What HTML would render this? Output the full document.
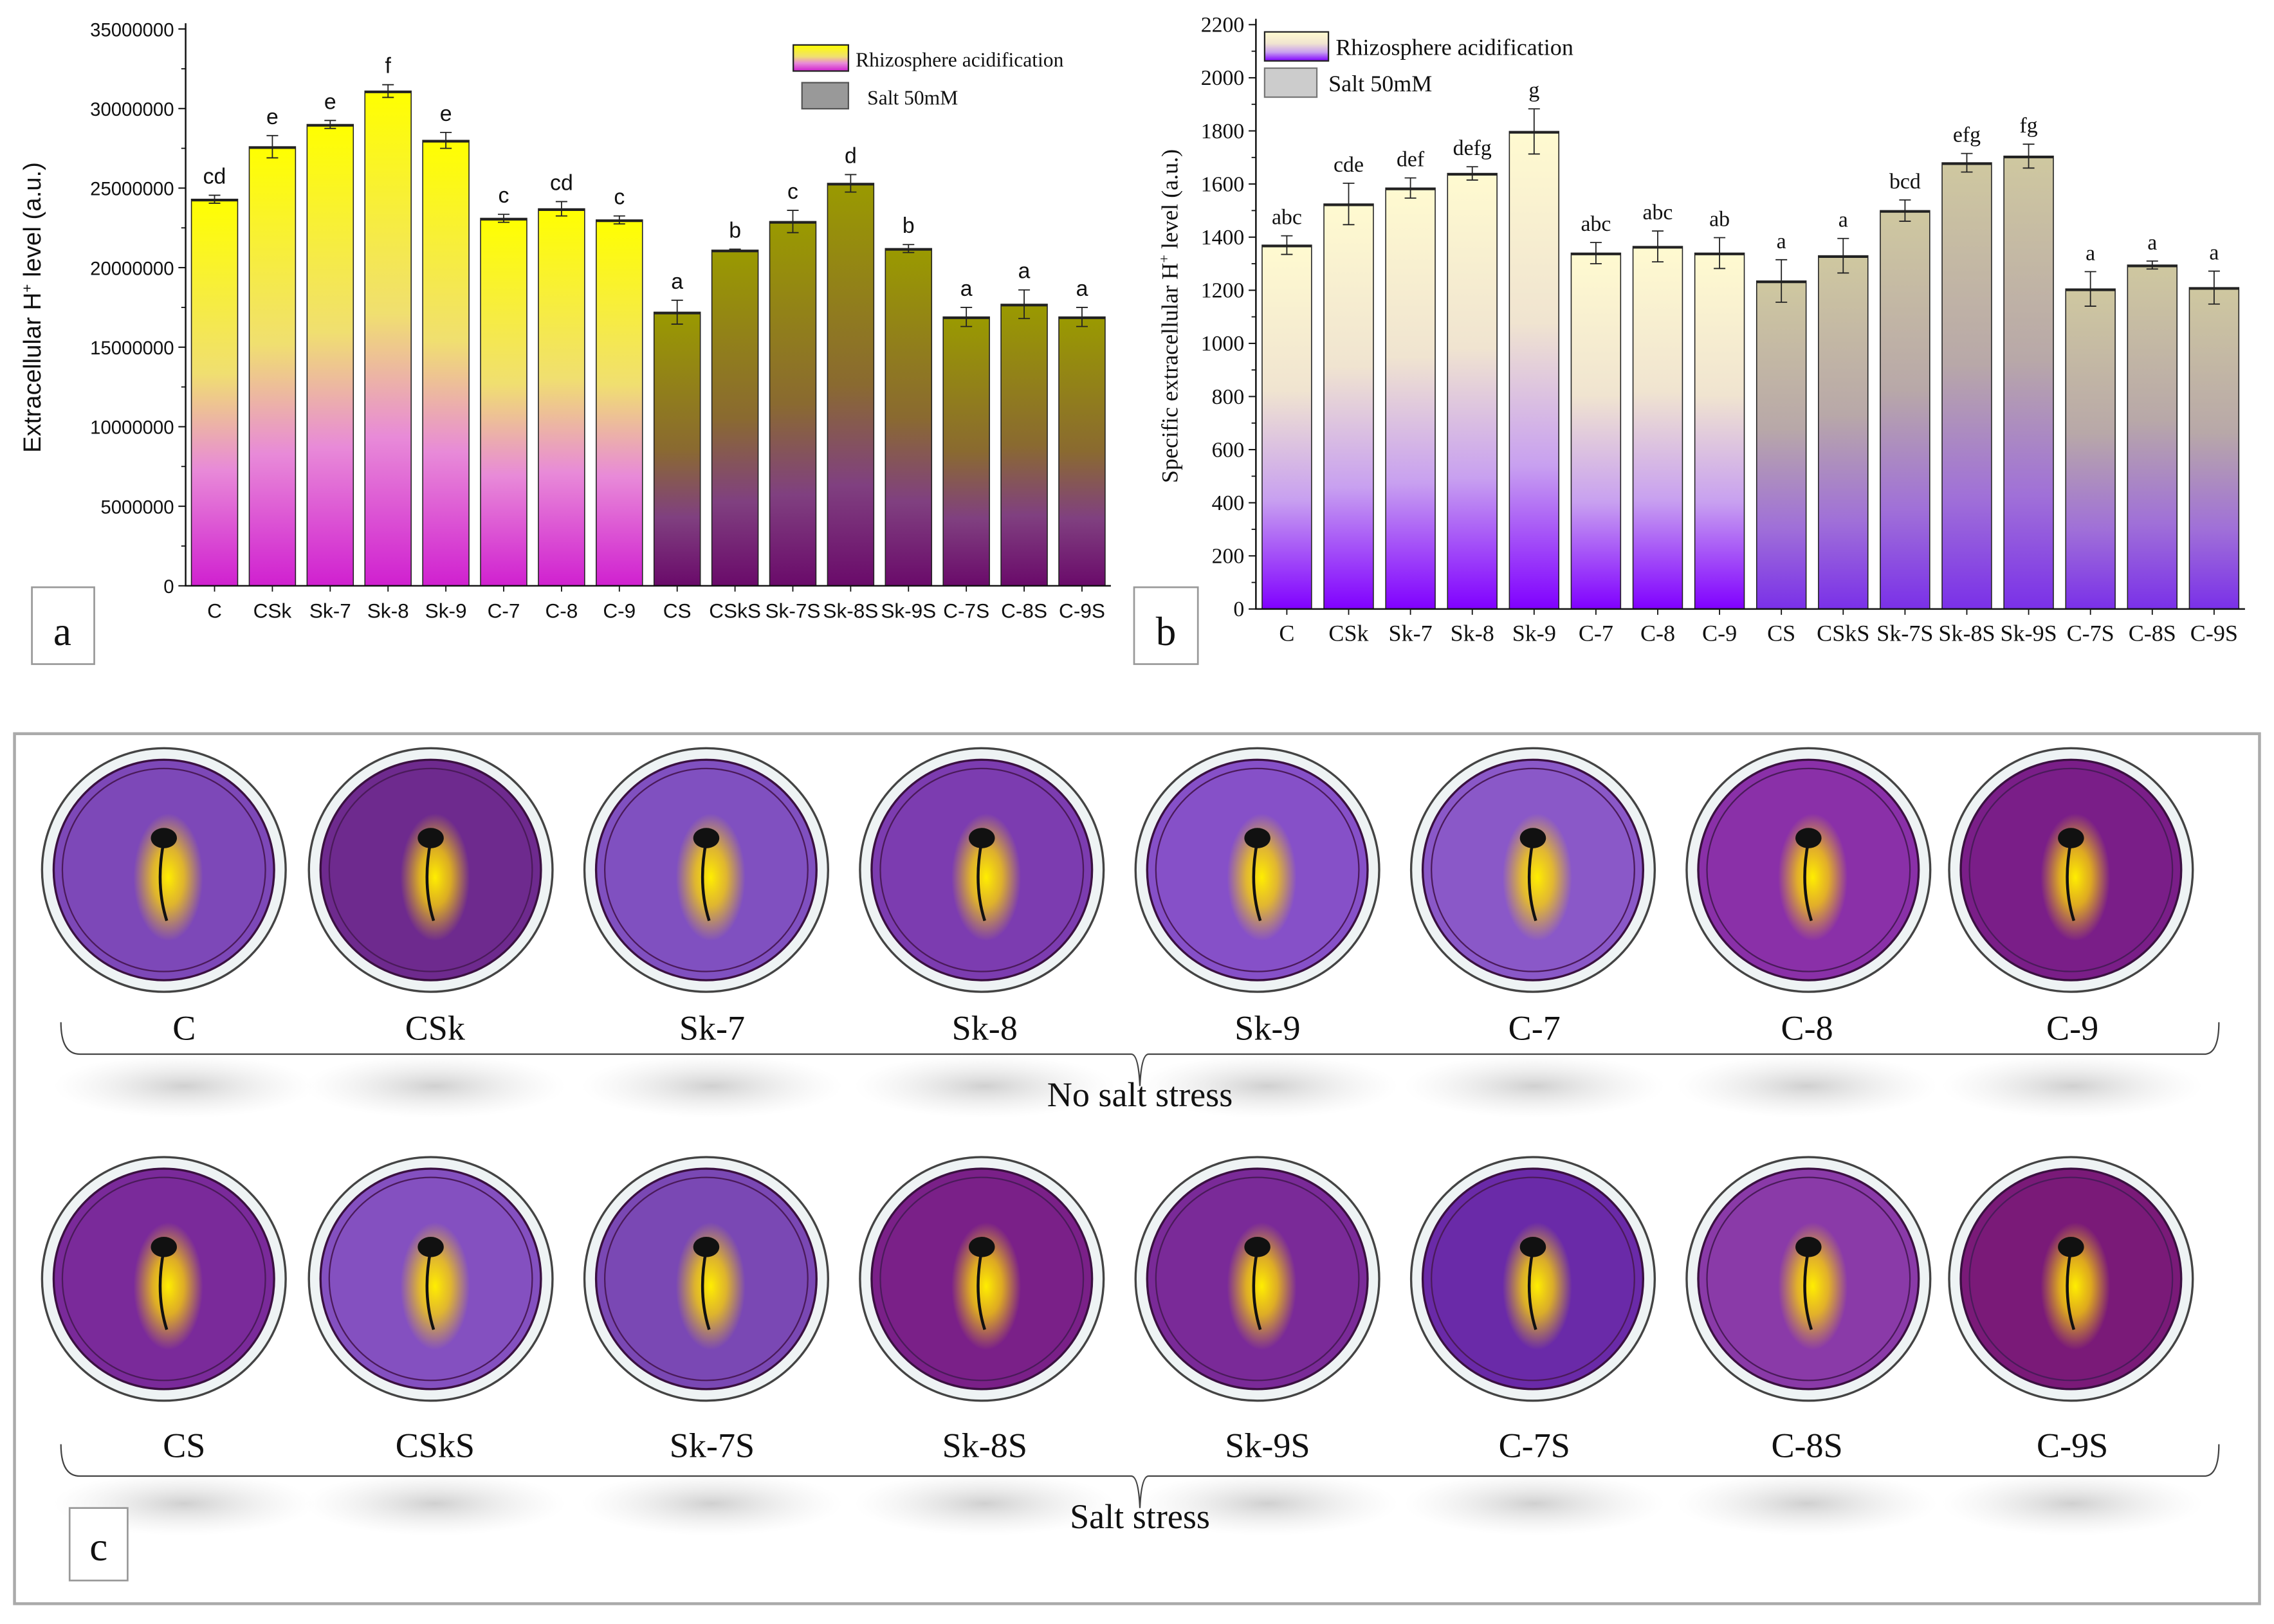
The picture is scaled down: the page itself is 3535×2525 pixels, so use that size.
<!DOCTYPE html>
<html><head><meta charset="utf-8"><style>
html,body{margin:0;padding:0;background:#fff;}
svg{display:block;}
</style></head><body>
<svg id="root" width="3535" height="2525" viewBox="0 0 1568 1120" preserveAspectRatio="none" xmlns="http://www.w3.org/2000/svg">
<defs>
<linearGradient id="gA1" x1="0" y1="0" x2="0" y2="1"><stop offset="0" stop-color="#ffff00"/><stop offset="0.45" stop-color="#f0df70"/><stop offset="0.7" stop-color="#e88ad8"/><stop offset="1" stop-color="#d020d0"/></linearGradient>
<linearGradient id="gA2" x1="0" y1="0" x2="0" y2="1"><stop offset="0" stop-color="#9a9a00"/><stop offset="0.5" stop-color="#8a6a30"/><stop offset="0.75" stop-color="#804080"/><stop offset="1" stop-color="#6a0a6a"/></linearGradient>
<linearGradient id="gB1" x1="0" y1="0" x2="0" y2="1"><stop offset="0" stop-color="#fffad0"/><stop offset="0.4" stop-color="#f0e4d0"/><stop offset="0.7" stop-color="#c8a0f0"/><stop offset="1" stop-color="#8000ff"/></linearGradient>
<linearGradient id="gB2" x1="0" y1="0" x2="0" y2="1"><stop offset="0" stop-color="#cfc8a0"/><stop offset="0.45" stop-color="#b8a8a8"/><stop offset="0.75" stop-color="#a070d8"/><stop offset="1" stop-color="#7a30e8"/></linearGradient>
<radialGradient id="glow"><stop offset="0" stop-color="#ffee00" stop-opacity="1"/><stop offset="0.45" stop-color="#ffd800" stop-opacity="0.75"/><stop offset="1" stop-color="#ffd800" stop-opacity="0"/></radialGradient>
<radialGradient id="shadow"><stop offset="0" stop-color="#c4c4c4" stop-opacity="0.8"/><stop offset="1" stop-color="#e4e4e4" stop-opacity="0"/></radialGradient>
</defs>
<g id="chartA"></g>
<g id="chartB"></g>
<g id="panelC"></g>
</svg>
<script>
const NS='http://www.w3.org/2000/svg';
const categories=['C','CSk','Sk-7','Sk-8','Sk-9','C-7','C-8','C-9','CS','CSkS','Sk-7S','Sk-8S','Sk-9S','C-7S','C-8S','C-9S'];
const valuesA=[24300000,27600000,29000000,31100000,28000000,23100000,23700000,23000000,17200000,21100000,22900000,25300000,21200000,16900000,17700000,16900000];
const errorsA=[250000,700000,250000,400000,500000,250000,450000,250000,750000,60000,700000,550000,250000,600000,900000,600000];
const lettersA=['cd','e','e','f','e','c','cd','c','a','b','c','d','b','a','a','a'];
const ticksA=[0,5000000,10000000,15000000,20000000,25000000,30000000,35000000];
const valuesB=[1370,1525,1585,1640,1798,1340,1365,1340,1235,1330,1500,1680,1705,1205,1295,1210];
const errorsB=[35,78,38,25,85,40,58,58,80,65,40,35,45,65,15,62];
const lettersB=['abc','cde','def','defg','g','abc','abc','ab','a','a','bcd','efg','fg','a','a','a'];
const ticksB=[0,200,400,600,800,1000,1200,1400,1600,1800,2000,2200];
const dishRow1=['C','CSk','Sk-7','Sk-8','Sk-9','C-7','C-8','C-9'];
const dishRow2=['CS','CSkS','Sk-7S','Sk-8S','Sk-9S','C-7S','C-8S','C-9S'];

function el(tag,attrs,parent,text){const e=document.createElementNS(NS,tag);for(const k in attrs)e.setAttribute(k,attrs[k]);if(text!==undefined)e.textContent=text;parent.appendChild(e);return e;}

function drawChart(g,o){
  const x0=o.x0,x1=o.x1,y0=o.y0,y1=o.y1,n=categories.length,bw=(x1-x0)/n;
  const ys=v=>y0-(v/o.max)*(y0-y1);
  categories.forEach((c,i)=>{
    const cx=x0+bw*(i+0.5),v=o.vals[i],e=o.errs[i];
    const r=el('rect',{x:cx-bw*0.4,y:ys(v),width:bw*0.8,height:y0-ys(v),fill:i<8?o.g1:o.g2,stroke:'#222','stroke-width':0.7},g);
    
    
    el('line',{x1:cx-bw*0.4,x2:cx+bw*0.4,y1:ys(v)+0.8,y2:ys(v)+0.8,stroke:'#222','stroke-width':1.4},g);
    const eb=el('path',{d:`M${cx},${ys(v+e)}V${ys(v-e)}M${cx-4},${ys(v+e)}H${cx+4}M${cx-4},${ys(v-e)}H${cx+4}`,stroke:'#222','stroke-width':0.8,fill:'none'},g);
    
    
    const t=el('text',{x:cx,y:ys(v+e)-8,'text-anchor':'middle','font-size':o.lfs,'font-family':o.font,fill:'#111'},g,o.lets[i]);
    
    
    const tl=el('text',{x:cx,y:y0+22,'text-anchor':'middle','font-size':o.xfs,'font-family':o.font,fill:'#111'},g,c);
    
    
    el('line',{x1:cx,x2:cx,y1:y0,y2:y0+4,stroke:'#111','stroke-width':0.8},g);
  });
  const ax=el('path',{d:`M${x0},${y1-4}V${y0}H${x1}`,stroke:'#111','stroke-width':1.1,fill:'none'},g);
  
  
  o.ticks.forEach((t,i)=>{
    el('line',{x1:x0-5,x2:x0,y1:ys(t),y2:ys(t),stroke:'#111','stroke-width':0.9},g);
    if(i<o.ticks.length-1){const m=(t+o.ticks[i+1])/2;el('line',{x1:x0-3,x2:x0,y1:ys(m),y2:ys(m),stroke:'#111','stroke-width':0.8},g);}
    const tt=el('text',{x:x0-8,y:ys(t)+5,'text-anchor':'end','font-size':o.yfs,'font-family':o.font,fill:'#111'},g,String(t));
    
    
  });
}

const gA=document.getElementById('chartA');
drawChart(gA,{x0:128,x1:766,y0:404,y1:20,max:35000000,vals:valuesA,errs:errorsA,lets:lettersA,ticks:ticksA,g1:'url(#gA1)',g2:'url(#gA2)',font:'"Liberation Sans",sans-serif',lfs:15,xfs:14,yfs:13});
const ytA=el('text',{transform:'translate(28,212) rotate(-90)','text-anchor':'middle','font-size':17,'font-family':'"Liberation Sans",sans-serif',fill:'#111'},gA);


ytA.innerHTML='Extracellular H<tspan dy="-6" font-size="10">+</tspan><tspan dy="6"> level (a.u.)</tspan>';
el('rect',{x:547,y:31,width:38,height:18,fill:'url(#gA1)',stroke:'#222','stroke-width':1},gA);
el('text',{x:590,y:46,'font-size':14,'font-family':'"Liberation Serif",serif',fill:'#111'},gA,'Rhizosphere acidification');
el('rect',{x:553,y:57,width:32,height:18,fill:'#999',stroke:'#555','stroke-width':1},gA);
el('text',{x:598,y:72,'font-size':14,'font-family':'"Liberation Serif",serif',fill:'#111'},gA,'Salt 50mM');
el('rect',{x:22,y:405,width:43,height:53,fill:'#fff',stroke:'#999','stroke-width':1.2},gA);
el('text',{x:43,y:445,'text-anchor':'middle','font-size':28,'font-family':'"Liberation Serif",serif',fill:'#111'},gA,'a');

const gB=document.getElementById('chartB');
drawChart(gB,{x0:866,x1:1548,y0:420,y1:17,max:2200,vals:valuesB,errs:errorsB,lets:lettersB,ticks:ticksB,g1:'url(#gB1)',g2:'url(#gB2)',font:'"Liberation Serif",serif',lfs:15,xfs:16,yfs:15});
const ytB=el('text',{transform:'translate(812,218) rotate(-90)','text-anchor':'middle','font-size':16,'font-family':'"Liberation Serif",serif',fill:'#111'},gB);


ytB.innerHTML='Specific extracellular H<tspan dy="-6" font-size="10">+</tspan><tspan dy="6"> level (a.u.)</tspan>';
el('rect',{x:872,y:22,width:44,height:20,fill:'url(#gB1)',stroke:'#222','stroke-width':1},gB);
el('text',{x:921,y:38,'font-size':16,'font-family':'"Liberation Serif",serif',fill:'#111'},gB,'Rhizosphere acidification');
el('rect',{x:872,y:47,width:36,height:20,fill:'#ccc',stroke:'#777','stroke-width':1},gB);
el('text',{x:916,y:63,'font-size':16,'font-family':'"Liberation Serif",serif',fill:'#111'},gB,'Salt 50mM');
el('rect',{x:782,y:405,width:44,height:53,fill:'#fff',stroke:'#999','stroke-width':1.2},gB);
el('text',{x:804,y:445,'text-anchor':'middle','font-size':28,'font-family':'"Liberation Serif",serif',fill:'#111'},gB,'b');

const gC=document.getElementById('panelC');
el('rect',{x:10,y:506,width:1548,height:600,fill:'#fff',stroke:'#aaa','stroke-width':2},gC);
const dishX=[113,297,487,677,867,1057,1247,1428];
const labX=[127,300,491,679,874,1058,1246,1429];
const colors1=['#7d48b8','#6e2a8e','#8050c0','#7c3cb0','#8650c8','#8a58c8','#8a30a8','#7a1e88'];
const colors2=['#7a2a9a','#8450c0','#7a48b4','#7a2088','#7a2a98','#6a2aa8','#8a3aa8','#7a1a78'];
function dishRow(names,cy,ly,colors,braceY,sub){
  names.forEach((nm,i)=>{
    const cx=dishX[i];
    el('ellipse',{cx:labX[i],cy:ly+32,rx:90,ry:22,fill:'url(#shadow)'},gC);
    const d=el('g',{},gC);
    
    
    el('circle',{cx:cx,cy:cy,r:84,fill:'#eef3f4',stroke:'#444','stroke-width':1.5},d);
    el('circle',{cx:cx,cy:cy,r:76,fill:colors[i],stroke:'#3a1040','stroke-width':1.5},d);
    el('circle',{cx:cx,cy:cy,r:70,fill:'none',stroke:'#4a1a5a','stroke-width':1},d);
    el('ellipse',{cx:cx+3,cy:cy+5,rx:24,ry:44,fill:'url(#glow)'},d);
    el('path',{d:`M${cx},${cy-20}q-6,30 2,${55}`,stroke:'#111','stroke-width':2,fill:'none'},d);
    el('ellipse',{cx:cx,cy:cy-22,rx:9,ry:7,fill:'#111'},d);
    el('text',{x:labX[i],y:ly,'text-anchor':'middle','font-size':24,'font-family':'"Liberation Serif",serif',fill:'#111'},gC,nm);
  });
  const br=el('path',{d:`M42,${braceY-22}Q42,${braceY} 55,${braceY}H780Q785,${braceY} 786,${braceY+22}Q787,${braceY} 792,${braceY}H1520Q1530,${braceY} 1530,${braceY-22}`,stroke:'#444','stroke-width':1,fill:'none'},gC);
  
  
  const s=el('text',{x:786,y:braceY+36,'text-anchor':'middle','font-size':24,'font-family':'"Liberation Serif",serif',fill:'#111'},gC,sub);
  
  
}
dishRow(dishRow1,600,717,colors1,727,'No salt   stress');
dishRow(dishRow2,882,1005,colors2,1018,'Salt   stress');
el('rect',{x:48,y:1040,width:40,height:50,fill:'#fff',stroke:'#999','stroke-width':1.2},gC);
el('text',{x:68,y:1076,'text-anchor':'middle','font-size':28,'font-family':'"Liberation Serif",serif',fill:'#111'},gC,'c');
</script>
</body></html>
